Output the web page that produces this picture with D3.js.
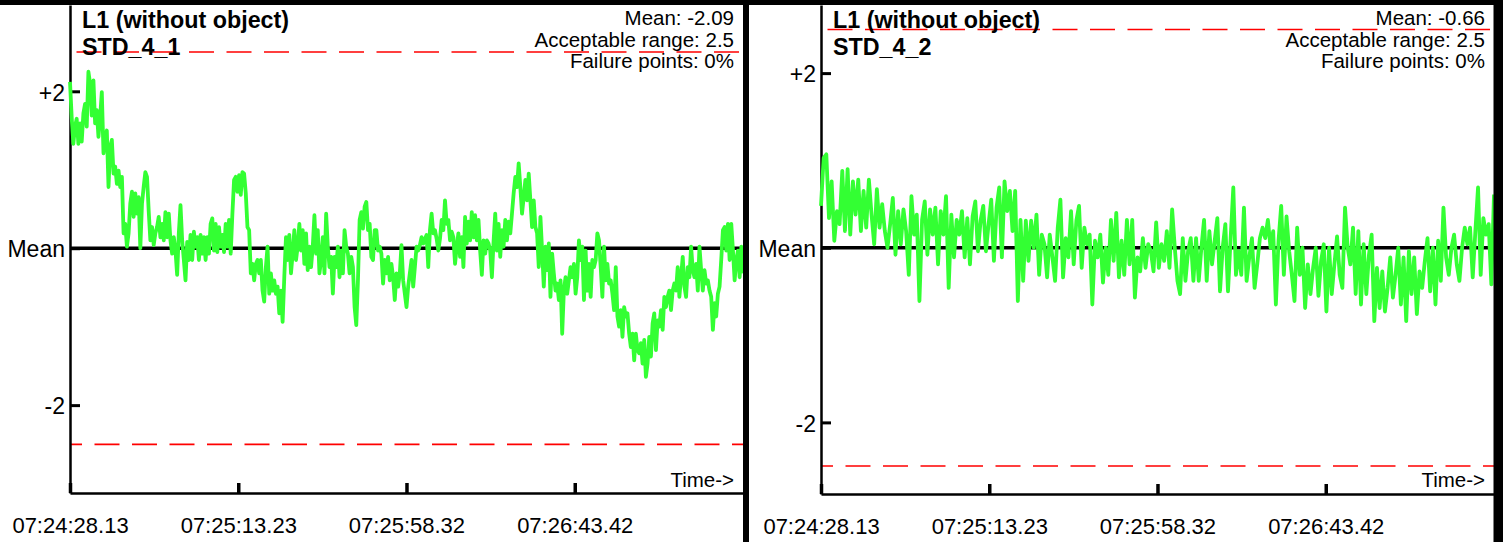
<!DOCTYPE html>
<html>
<head>
<meta charset="utf-8">
<script src="https://cdn.jsdelivr.net/npm/d3@7"></script>
<style>
  html, body { margin: 0; padding: 0; background: #fff; }
  svg { display: block; font-family: "Liberation Sans", Arial, Helvetica, sans-serif; }
</style>
</head>
<body>
<svg id="chart" width="1503" height="542"></svg>
<script>
// ---- data ----
const xTickLabels = ["07:24:28.13", "07:25:13.23", "07:25:58.32", "07:26:43.42"];
const xTickSeconds = [0, 45.10, 90.19, 135.29];   // seconds after the first sample
const spanSeconds = 180.39;                        // length of the recording

const yTickValues = [-2, 0, 2];
const yTickLabels = ["-2", "Mean", "+2"];

const titles = ["L1 (without object)", "L1 (without object)"];
const sensorNames = ["STD_4_1", "STD_4_2"];
const means = [-2.09, -0.66];
const acceptableRange = [2.5, 2.5];
const failurePoints = [0, 0];
const yExtents = [[-3.12, 3.10], [-2.82, 2.78]];

// deviation from the mean, evenly sampled over the recording
const deviationA = [
  2.12, 1.67, 1.33, 1.55, 1.65, 1.33, 1.59, 1.36, 1.72, 1.84, 1.55, 2.25, 2.10, 1.69, 2.14, 1.59,
  1.76, 1.42, 1.67, 1.99, 1.21, 1.42, 1.50, 0.78, 1.29, 1.38, 0.95, 1.04, 0.82, 0.99, 0.78, 0.91,
  0.19, 0.31, 0.02, 0.19, 0.57, 0.72, 0.40, 0.70, 0.44, 0.65, 0.00, 0.57, 0.78, 0.97, 0.91, 0.48,
  0.10, 0.27, 0.04, 0.19, 0.27, 0.40, 0.14, 0.31, 0.10, 0.46, 0.14, 0.44, 0.10, -0.07, 0.14, -0.03,
  -0.34, 0.19, 0.55, 0.10, -0.15, -0.41, 0.08, -0.15, 0.17, -0.15, 0.21, 0.02, 0.14, -0.15, 0.17, -0.07,
  0.14, -0.15, 0.14, -0.07, 0.31, 0.38, -0.03, 0.31, -0.05, 0.27, 0.02, 0.17, -0.05, 0.31, 0.02, 0.36,
  -0.07, 0.44, 0.87, 0.91, 0.72, 0.93, 0.68, 0.97, 0.95, 0.70, 0.27, 0.23, -0.32, -0.20, -0.41, -0.20,
  -0.15, -0.32, -0.15, -0.54, -0.68, -0.24, 0.02, -0.58, -0.32, -0.54, -0.41, -0.58, -0.49, -0.83, -0.54, -0.94,
  -0.37, 0.14, -0.15, 0.17, -0.32, -0.07, 0.23, -0.15, 0.02, 0.31, -0.03, 0.23, -0.20, 0.19, -0.28, 0.02,
  -0.24, 0.02, 0.42, -0.07, 0.23, -0.32, -0.15, 0.14, -0.32, 0.44, 0.02, -0.24, -0.11, -0.58, -0.11, -0.24,
  0.02, -0.37, -0.03, -0.32, 0.23, 0.02, -0.07, -0.32, -0.11, -0.24, -0.75, -0.98, -0.41, 0.36, 0.46, 0.25,
  0.53, 0.59, 0.23, 0.31, -0.11, -0.15, 0.23, 0.23, -0.03, 0.02, -0.07, -0.45, -0.15, -0.32, -0.11, -0.41,
  -0.20, -0.37, -0.66, -0.32, -0.49, -0.32, 0.04, -0.41, -0.58, -0.75, -0.49, -0.32,
  -0.15, -0.49, -0.24, 0.02, -0.03, 0.04, 0.14, 0.06, 0.12, 0.17, -0.24, 0.23, 0.44, 0.19, 0.23, 0.12,
  -0.03, 0.12, 0.36, 0.23, 0.61, 0.31, 0.36, 0.10, 0.21, 0.14, -0.20, 0.02, 0.19, -0.11, 0.14, -0.24,
  0.40, 0.06, 0.34, 0.10, 0.46, 0.14, 0.42, 0.10, 0.36, -0.03, -0.34, 0.10, -0.07, 0.10, 0.06, -0.03,
  -0.37, 0.08, 0.44, -0.03, 0.31, -0.11, 0.23, 0.02, 0.36, 0.10, 0.34, 0.19, 0.44, 0.70, 0.91, 0.78,
  1.08, 0.78, 0.44, 0.65, 0.87, 0.61, 0.95, 0.61, 0.27, 0.61, 0.27, 0.19, -0.24, 0.40, -0.03, -0.49,
  0.02, -0.28, 0.06, -0.62, -0.07, -0.32, -0.54, -0.45, -0.66, -0.41, -1.09, -0.54, -0.37, -0.58, -0.41, -0.24,
  -0.37, -0.20, -0.58, -0.37, 0.10, -0.15, 0.02, -0.66, -0.03, -0.54, -0.20, -0.62, -0.15, -0.24, -0.15, 0.19,
  0.10, -0.24, -0.62, 0.02, -0.41, -0.20, -0.45, -0.41, -0.58, -0.79, -0.24, -0.87, -1.00, -0.79, -1.13, -0.75,
  -0.87, -0.83, -1.09, -1.26, -1.09, -1.43, -1.09, -1.30, -1.34, -1.21, -1.47, -1.17, -1.64, -1.47, -1.13, -1.38,
  -0.96, -0.83, -1.30, -0.92, -1.00, -0.79, -1.04, -0.62, -0.75, -0.62, -0.54, -0.79, -0.54, -0.45, -0.54, -0.24,
  -0.62, -0.37, -0.11, -0.49, -0.62, -0.24, -0.37, 0.02, -0.28, -0.37, -0.20, -0.54, 0.02, -0.28, -0.54, -0.28,
  -0.45, -0.41, -0.54, -0.62, -1.04, -0.70, -0.87, -0.58, -0.49, -0.15, 0.23, 0.27, -0.03, 0.31, -0.15, 0.31,
  -0.03, -0.41, -0.15, -0.03, -0.37, 0.02, -0.32
];

const deviationB = [
  0.48, 1.03, 1.07, 0.34, 0.76, 0.08, 0.42, 0.27, 0.88, 0.19, 0.90, 0.15, 0.76, 0.38, 0.78, 0.19,
  0.65, 0.23, 0.78, 0.38, 0.04, 0.67, 0.23, 0.50, 0.19, 0.00, 0.27, 0.57, -0.08, 0.42, 0.04, 0.44,
  0.19, -0.31, 0.59, 0.15, 0.38, -0.61, 0.32, 0.53, -0.08, 0.44, 0.15, 0.46, -0.19, 0.42, 0.15, 0.59,
  -0.46, 0.38, -0.11, 0.32, 0.15, 0.42, -0.11, 0.34, -0.19, 0.36, 0.53, -0.04, 0.31, 0.48, -0.04, 0.27,
  0.55, -0.15, 0.46, 0.69, -0.11, 0.76, 0.42, 0.65, 0.19, 0.65, -0.61, 0.32, -0.38, 0.31, -0.15, 0.31,
  0.00, 0.38, -0.31, 0.15, 0.04, -0.34, 0.15, -0.11, -0.38, 0.23, 0.55, -0.34, 0.11, -0.11, 0.42, -0.19,
  0.31, 0.48, -0.23, 0.23, 0.04, 0.15, -0.65, 0.08, -0.11, 0.15, -0.40, 0.00, -0.31, 0.32, -0.15, 0.40,
  -0.34, 0.08, -0.31, 0.32, -0.19, 0.32, -0.57, -0.11, -0.27, 0.11, -0.23, 0.04, -0.04, -0.27, 0.29, -0.23,
  0.04, -0.15, 0.19, -0.23, 0.44, 0.00, -0.38, -0.53, 0.11, -0.38, -0.04, 0.11, -0.38, 0.11, -0.38, 0.00,
  0.32, -0.38, 0.19, -0.19, 0.08, 0.34, -0.50, 0.00, 0.27, -0.50, 0.11, 0.69, -0.31, -0.04, -0.31, 0.46,
  -0.38, -0.11, 0.11, -0.46, -0.19, 0.11, 0.23, 0.11, 0.32, 0.00, 0.19, -0.65, 0.08, 0.48, -0.31, 0.36,
  -0.04, -0.31, -0.61, 0.23, -0.31, 0.00, -0.69, -0.19, -0.53, -0.23, 0.00, -0.55, -0.15, 0.04, -0.73, 0.00,
  -0.53, -0.19, 0.13, -0.31, -0.46, 0.46, 0.00, -0.19, 0.23, -0.53, 0.19, -0.65, 0.04, -0.53, -0.08, 0.15,
  -0.84, -0.23, -0.69, -0.27, -0.73, -0.46, -0.11, -0.57, -0.31, 0.00, -0.65, -0.11, -0.84, -0.04, -0.53, -0.11,
  -0.76, -0.27, -0.46, -0.15, 0.11, -0.50, 0.00, -0.65, 0.08, -0.38, 0.46, -0.11, -0.31, 0.00, 0.15, -0.19,
  -0.38, 0.00, 0.23, 0.04, 0.23, -0.34, 0.19, 0.69, -0.31, 0.34, 0.15, 0.27, -0.42, 0.61
];

// ---- drawing ----
const svg = d3.select("#chart");
svg.append("rect").attr("width", 1503).attr("height", 542).attr("fill", "#fff");

const panels = [
  { x0: 70,  x1: 743,  y0: 5, y1: 493, values: deviationA, dashTop: 31, dashBottom: 13 },
  { x0: 821, x1: 1494, y0: 5, y1: 494, values: deviationB, dashTop: 31, dashBottom: 13 }
];

const green = "#33ff33";

panels.forEach((p, i) => {
  const x = d3.scaleLinear().domain([0, spanSeconds]).range([p.x0, p.x1]);
  const y = d3.scaleLinear().domain(yExtents[i]).range([p.y1, p.y0]);
  const g = svg.append("g");

  // acceptable band limits
  [[acceptableRange[i], p.dashTop], [-acceptableRange[i], p.dashBottom]].forEach(([lim, off]) => {
    g.append("line")
      .attr("x1", p.x0).attr("x2", p.x1)
      .attr("y1", y(lim)).attr("y2", y(lim))
      .attr("stroke", "#ff0000")
      .attr("stroke-width", 1.6)
      .attr("stroke-dasharray", "25,12.5")
      .attr("stroke-dashoffset", off);
  });

  // x axis with inward ticks
  const xAxis = d3.axisBottom(x)
    .tickValues(xTickSeconds)
    .tickFormat((d, j) => xTickLabels[j])
    .tickSizeInner(-10).tickSizeOuter(0).tickPadding(24.5);
  const gx = g.append("g")
    .attr("transform", `translate(0,${p.y1})`)
    .call(xAxis)
    .attr("font-family", null).attr("font-size", 22);
  gx.select(".domain").attr("stroke", "#000").attr("stroke-width", 2.5);
  gx.selectAll(".tick line").attr("stroke", "#000").attr("stroke-width", 3.5);
  gx.selectAll(".tick text").attr("fill", "#000");

  // y axis with inward ticks
  const yAxis = d3.axisLeft(y)
    .tickValues(yTickValues)
    .tickFormat((d, j) => yTickLabels[j])
    .tickSizeInner(-10).tickSizeOuter(0).tickPadding(5);
  const gy = g.append("g")
    .attr("transform", `translate(${p.x0},0)`)
    .call(yAxis)
    .attr("font-family", null).attr("font-size", 23);
  gy.select(".domain").attr("stroke", "#000").attr("stroke-width", 2.5);
  gy.selectAll(".tick line").attr("stroke", "#000").attr("stroke-width", 3);
  gy.selectAll(".tick text").attr("fill", "#000").attr("dy", "0.38em");

  // mean reference line
  g.append("line")
    .attr("x1", p.x0).attr("x2", p.x1)
    .attr("y1", y(0)).attr("y2", y(0))
    .attr("stroke", "#000").attr("stroke-width", 3.5);

  // measurement trace
  const n = p.values.length;
  const line = d3.line()
    .x((d, j) => x(j * spanSeconds / (n - 1)))
    .y(d => y(d));
  g.append("path")
    .datum(p.values)
    .attr("d", line)
    .attr("fill", "none")
    .attr("stroke", green)
    .attr("stroke-width", 3.8)
    .attr("stroke-linejoin", "round");

  // headings
  g.append("text").attr("x", p.x0 + 12).attr("y", 28)
    .attr("font-size", 23.3).attr("font-weight", "bold").text(titles[i]);
  g.append("text").attr("x", p.x0 + 12).attr("y", 55)
    .attr("font-size", 23.3).attr("font-weight", "bold").text(sensorNames[i]);

  // statistics, right aligned
  const stats = [
    "Mean: " + means[i].toFixed(2),
    "Acceptable range: " + acceptableRange[i],
    "Failure points: " + failurePoints[i] + "%"
  ];
  stats.forEach((s, k) => {
    g.append("text").attr("x", p.x1 - 9).attr("y", 25 + k * 21.5)
      .attr("text-anchor", "end").attr("font-size", 20.5).text(s);
  });

  g.append("text").attr("x", p.x1 - 9).attr("y", 487)
    .attr("text-anchor", "end").attr("font-size", 20.5).text("Time->");
});

// frame bars
svg.append("rect").attr("x", 0).attr("y", 0).attr("width", 1503).attr("height", 5).attr("fill", "#000");
svg.append("rect").attr("x", 743).attr("y", 0).attr("width", 6).attr("height", 542).attr("fill", "#000");
svg.append("rect").attr("x", 1493.5).attr("y", 0).attr("width", 9.5).attr("height", 542).attr("fill", "#000");
</script>
</body>
</html>
